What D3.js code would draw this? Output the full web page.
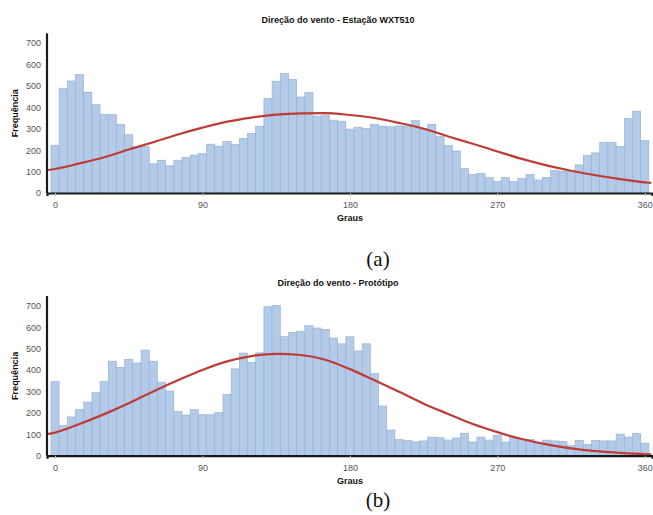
<!DOCTYPE html>
<html>
<head>
<meta charset="utf-8">
<script src="https://cdn.jsdelivr.net/npm/d3@7"></script>
<style>
  body { margin: 0; background: #fff; }
  svg { display: block; font-family: "Liberation Sans", Arial, sans-serif; }
  .tick-label { font-size: 9px; fill: #555; }
  .bold-label { font-size: 9px; font-weight: bold; fill: #111; }
  .caption { font-family: "Liberation Serif", "Times New Roman", serif; font-size: 21px; fill: #111; }
</style>
</head>
<body>
<svg id="chart" width="653" height="515"></svg>
<script>
    'use strict';

    // bin centres (degrees), 5 degree bins
    const binCenters = [0, 5, 10, 15, 20, 25, 30, 35, 40, 45, 50, 55, 60, 65, 70, 75, 80, 85, 90,
        95, 100, 105, 110, 115, 120, 125, 130, 135, 140, 145, 150, 155, 160, 165, 170, 175, 180,
        185, 190, 195, 200, 205, 210, 215, 220, 225, 230, 235, 240, 245, 250, 255, 260, 265, 270,
        275, 280, 285, 290, 295, 300, 305, 310, 315, 320, 325, 330, 335, 340, 345, 350, 355, 360];

    // (a) Estação WXT510
    const freqWXT = [223, 489, 523, 553, 470, 412, 367, 367, 320, 272, 216, 216, 136, 153, 127, 153,
        167, 177, 184, 228, 219, 241, 227, 255, 278, 312, 441, 522, 557, 530, 448, 470, 359, 364,
        340, 335, 298, 307, 302, 321, 312, 309, 313, 313, 338, 299, 321, 265, 221, 196, 114, 86,
        91, 72, 55, 73, 53, 69, 86, 61, 73, 105, 101, 105, 131, 175, 187, 236, 236, 218, 348, 382, 245];

    // (b) Protótipo
    const freqProto = [346, 140, 181, 215, 250, 294, 346, 441, 413, 449, 433, 493, 441, 343, 302, 206,
        190, 215, 191, 191, 202, 286, 405, 479, 435, 480, 695, 702, 556, 575, 580, 607, 596, 589,
        549, 522, 555, 489, 522, 383, 232, 120, 75, 72, 65, 69, 87, 84, 73, 83, 105, 64, 87, 73,
        96, 64, 84, 76, 76, 59, 73, 69, 67, 47, 72, 53, 72, 69, 69, 101, 87, 105, 59];

    // fitted curve
    const curveAngles = [-5, 0, 15, 30, 45, 60, 75, 90, 105, 120, 135, 150, 165, 180, 195, 210, 225,
        240, 255, 270, 285, 300, 315, 330, 345, 360, 364];
    const curveWXT = [106, 112, 138, 167, 203, 237, 273, 305, 333, 352, 366, 372, 373, 364, 350, 327,
        300, 264, 230, 194, 159, 129, 104, 83, 65, 50, 47];
    const curveProto = [101, 108, 148, 194, 245, 300, 352, 400, 440, 465, 475, 470, 448, 404, 352, 298,
        243, 195, 148, 110, 78, 53, 34, 21, 13, 7, 6];

    const xTicks = [0, 90, 180, 270, 360];
    const yTicks = [0, 100, 200, 300, 400, 500, 600, 700];

    const titles = ['Direção do vento - Estação WXT510', 'Direção do vento - Protótipo'];
    const captions = ['(a)', '(b)'];

    const BIN_WIDTH = 5;
    const BAR_FILL = '#b3cbe8';
    const BAR_STROKE = '#92aed0';
    const CURVE_COLOR = '#bf3b36';

    const svg = d3.select('#chart');

    const x = d3.scaleLinear().domain([-4.9, 364.4]).range([47, 652]);

    function drawPanel(cfg) {
        const g = svg.append('g').attr('class', 'panel');
        const y = d3.scaleLinear().domain([0, 700]).range([cfg.bottom, cfg.bottom - 150]);
        const data = binCenters.map((c, i) => ({ center: c, value: cfg.freq[i] }));

        g.append('text')
            .attr('class', 'bold-label')
            .attr('x', 338)
            .attr('y', cfg.titleY)
            .attr('dy', '0.35em')
            .attr('text-anchor', 'middle')
            .text(cfg.title);

        g.selectAll('rect.bar')
            .data(data)
            .enter()
            .append('rect')
            .attr('class', 'bar')
            .attr('x', d => x(d.center - BIN_WIDTH / 2))
            .attr('width', d => x(d.center + BIN_WIDTH / 2) - x(d.center - BIN_WIDTH / 2))
            .attr('y', d => y(d.value))
            .attr('height', d => y(0) - y(d.value))
            .attr('fill', BAR_FILL)
            .attr('stroke', BAR_STROKE)
            .attr('stroke-width', 0.6);

        const line = d3.line()
            .x(d => x(d[0]))
            .y(d => y(d[1]))
            .curve(d3.curveMonotoneX);

        g.append('path')
            .datum(curveAngles.map((a, i) => [a, cfg.curve[i]]))
            .attr('d', line)
            .attr('fill', 'none')
            .attr('stroke', CURVE_COLOR)
            .attr('stroke-width', 2.2);

        // x axis
        const xAxis = g.append('g')
            .attr('transform', `translate(0,${y(0)})`)
            .call(d3.axisBottom(x).tickValues(xTicks).tickSize(3).tickPadding(6));
        xAxis.select('.domain').attr('stroke', '#1a1a1a').attr('stroke-width', 2.2);
        xAxis.selectAll('.tick line').attr('stroke', '#bbb');
        xAxis.selectAll('.tick text').attr('class', 'tick-label').attr('font-family', null).attr('font-size', null);

        // y axis
        const yAxis = g.append('g')
            .attr('transform', `translate(${x.range()[0]},0)`)
            .call(d3.axisLeft(y).tickValues(yTicks).tickSize(0).tickPadding(6));
        yAxis.select('.domain')
            .attr('d', `M0,${y(0)}V${y(745)}`)
            .attr('stroke', '#1a1a1a')
            .attr('stroke-width', 2.2);
        yAxis.selectAll('.tick text').attr('class', 'tick-label').attr('font-family', null).attr('font-size', null);

        g.append('text')
            .attr('class', 'bold-label')
            .attr('x', x(180))
            .attr('y', cfg.bottom + 25)
            .attr('dy', '0.35em')
            .attr('text-anchor', 'middle')
            .text('Graus');

        g.append('text')
            .attr('class', 'bold-label')
            .attr('transform', `translate(15,${(y(0) + y(745)) / 2}) rotate(-90)`)
            .attr('dy', '0.35em')
            .attr('text-anchor', 'middle')
            .text('Frequência');

        g.append('text')
            .attr('class', 'caption')
            .attr('x', 378)
            .attr('y', cfg.captionY)
            .attr('text-anchor', 'middle')
            .text(cfg.caption);
    }

    drawPanel({ title: titles[0], caption: captions[0], freq: freqWXT, curve: curveWXT,
        bottom: 193, titleY: 20, captionY: 266 });
    drawPanel({ title: titles[1], caption: captions[1], freq: freqProto, curve: curveProto,
        bottom: 455.7, titleY: 283, captionY: 507 });
</script>
</body>
</html>
